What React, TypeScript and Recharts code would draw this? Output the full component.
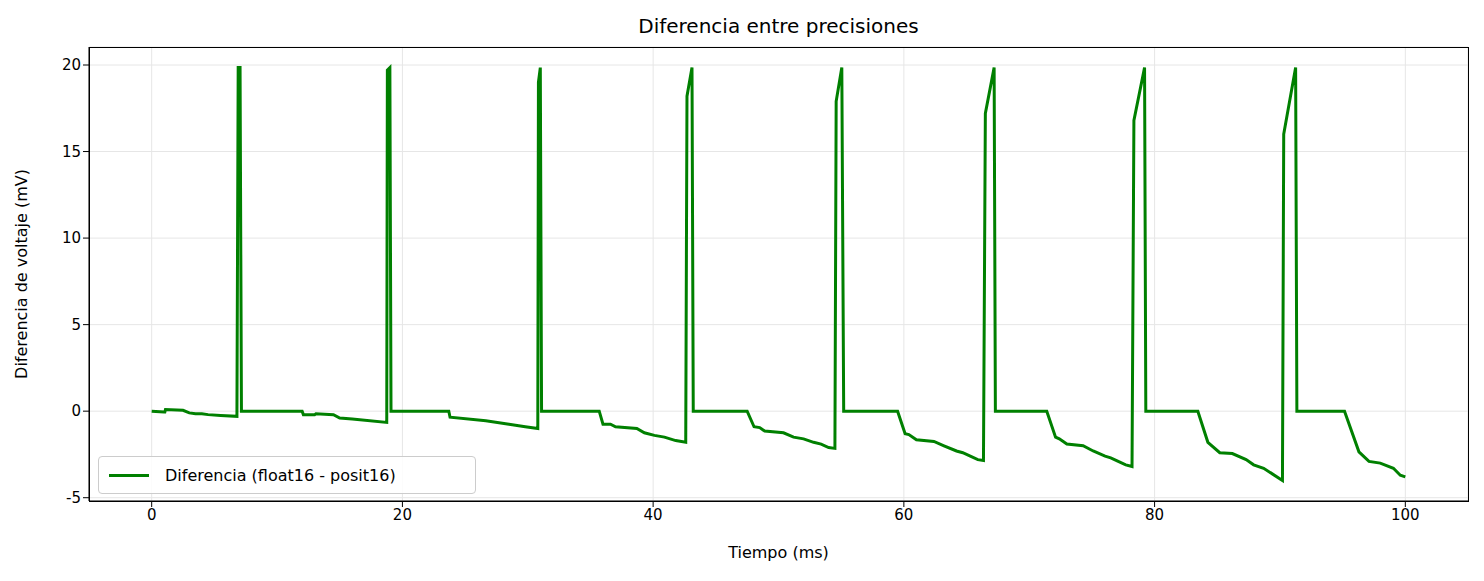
import React from "react";
import { LineChart, Line, XAxis, YAxis, CartesianGrid } from "recharts";

const timeMs = [0,1,1.05,1.1,2.5,3,3.5,4,4.5,5.5,6.8,6.9,7.05,7.16,12,12.1,13,13.1,14.5,15,16,18.75,18.8,19.0,19.09,23.7,23.8,26.65,28.5,29.8,30.8,30.85,31.0,31.1,35.7,36.0,36.6,37.0,38.7,39.3,40.1,40.9,41.8,42.6,42.7,43.1,43.2,47.5,48.05,48.5,48.9,50.4,51.2,52.0,52.8,53.4,54.0,54.5,54.6,55.05,55.2,59.5,60.1,60.4,61.0,62.4,63.2,64.2,64.7,65.3,65.9,66.35,66.5,67.2,67.3,71.4,72.1,72.4,73.0,74.3,75.1,76.05,76.5,77.1,77.7,78.2,78.35,79.2,79.3,83.45,84.25,85.2,86.2,87.3,87.9,88.7,90.2,90.3,91.25,91.35,95.15,96.3,97.1,98.0,99.05,99.6,100];
const diffMv = [0,-0.05,-0.05,0.1,0.05,-0.1,-0.15,-0.15,-0.2,-0.25,-0.3,19.85,19.85,0,0,-0.2,-0.2,-0.15,-0.2,-0.4,-0.45,-0.65,19.7,19.85,0,0,-0.35,-0.55,-0.75,-0.9,-1.0,19.0,19.85,0,0,-0.75,-0.75,-0.9,-1.0,-1.25,-1.4,-1.5,-1.7,-1.8,18.2,19.85,0,0,-0.9,-0.95,-1.15,-1.25,-1.5,-1.6,-1.8,-1.9,-2.1,-2.15,17.9,19.85,0,0,-1.3,-1.35,-1.65,-1.75,-2.0,-2.3,-2.4,-2.6,-2.8,-2.85,17.2,19.85,0,0,-1.5,-1.6,-1.9,-2.0,-2.3,-2.6,-2.7,-2.9,-3.1,-3.2,16.8,19.85,0,0,-1.8,-2.4,-2.45,-2.8,-3.1,-3.3,-4.0,16.0,19.85,0,0,-2.35,-2.9,-3.0,-3.3,-3.7,-3.8];
const xTicks = [0,20,40,60,80,100];
const yTicks = [-5,0,5,10,15,20];

const data = timeMs.map((t, i) => ({ t, d: diffMv[i] }));
const font = "DejaVu Sans, sans-serif";

export default function App() {
  return (
    <div style={{ position: "absolute", left: 0, top: 0, width: 1484, height: 581, background: "#fff", fontFamily: font }}>
      <div style={{ position: "absolute", top: 14, left: 89, width: 1379, textAlign: "center", fontSize: 20 }}>Diferencia entre precisiones</div>
      <LineChart width={1484} height={581} data={data} margin={{ top: 47, right: 16, left: 29, bottom: 45 }}>
        <CartesianGrid stroke="#e6e6e6" />
        <XAxis dataKey="t" type="number" domain={[-5, 105]} ticks={xTicks} height={35}
          tick={{ fill: "#000", fontSize: 15, fontFamily: font }} tickLine={{ stroke: "#000" }} axisLine={{ stroke: "#000" }}
          label={{ value: "Tiempo (ms)", position: "insideBottom", offset: -22, fill: "#000", fontSize: 16, fontFamily: font }} />
        <YAxis type="number" domain={[-5.19, 21.04]} ticks={yTicks} width={60} allowDataOverflow
          tick={{ fill: "#000", fontSize: 15, fontFamily: font }} tickLine={{ stroke: "#000" }} axisLine={{ stroke: "#000" }}
          label={{ value: "Diferencia de voltaje (mV)", angle: -90, position: "insideLeft", offset: -8, fill: "#000", fontSize: 16, fontFamily: font, style: { textAnchor: "middle" } }} />
        <Line dataKey="d" stroke="#008000" strokeWidth={3} dot={false} isAnimationActive={false} />
      </LineChart>
      <div style={{ position: "absolute", left: 89, top: 47, width: 1378, height: 453, border: "1px solid #000", pointerEvents: "none" }} />
      <div style={{ position: "absolute", left: 98, top: 456, width: 376, height: 36, border: "1px solid #ccc", borderRadius: 4, background: "rgba(255,255,255,0.85)", display: "flex", alignItems: "center", fontSize: 16 }}>
        <div style={{ width: 40, height: 3, background: "#008000", marginLeft: 10, marginRight: 16 }} />
        Diferencia (float16 - posit16)
      </div>
    </div>
  );
}
